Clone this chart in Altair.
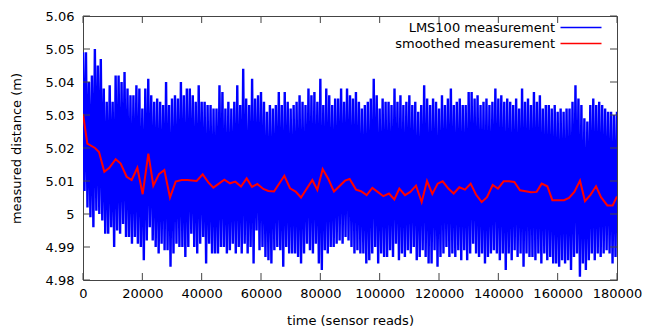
import altair as alt
import pandas as pd

# upper / lower envelope of the raw LMS100 readings, one pair per 1000 reads
raw_step = 1000
raw_upper = [
    5.049, 5.049, 5.040, 5.042, 5.050, 5.045, 5.047, 5.038, 5.034, 5.039,
    5.034, 5.042, 5.042, 5.040, 5.043, 5.038, 5.036, 5.036, 5.039, 5.038,
    5.032, 5.038, 5.041, 5.036, 5.034, 5.035, 5.034, 5.033, 5.040, 5.033,
    5.035, 5.036, 5.035, 5.040, 5.036, 5.038, 5.038, 5.036, 5.034, 5.039,
    5.034, 5.034, 5.033, 5.033, 5.032, 5.032, 5.039, 5.037, 5.032, 5.034,
    5.032, 5.034, 5.039, 5.033, 5.044, 5.035, 5.033, 5.041, 5.035, 5.036,
    5.037, 5.034, 5.031, 5.033, 5.032, 5.033, 5.037, 5.033, 5.037, 5.034,
    5.032, 5.033, 5.034, 5.036, 5.034, 5.033, 5.038, 5.036, 5.037, 5.034,
    5.041, 5.033, 5.038, 5.036, 5.033, 5.035, 5.035, 5.038, 5.034, 5.038,
    5.036, 5.035, 5.037, 5.034, 5.032, 5.033, 5.034, 5.035, 5.041, 5.036,
    5.032, 5.035, 5.034, 5.034, 5.033, 5.038, 5.034, 5.036, 5.033, 5.034,
    5.036, 5.033, 5.034, 5.031, 5.033, 5.039, 5.035, 5.033, 5.035, 5.034,
    5.032, 5.036, 5.033, 5.035, 5.038, 5.033, 5.034, 5.035, 5.033, 5.033,
    5.037, 5.037, 5.035, 5.036, 5.033, 5.034, 5.035, 5.033, 5.034, 5.038,
    5.035, 5.036, 5.034, 5.035, 5.034, 5.033, 5.035, 5.032, 5.038, 5.034,
    5.035, 5.033, 5.037, 5.034, 5.036, 5.032, 5.033, 5.033, 5.032, 5.033,
    5.031, 5.032, 5.031, 5.032, 5.032, 5.034, 5.039, 5.035, 5.033, 5.029,
    5.028, 5.033, 5.035, 5.033, 5.034, 5.033, 5.032, 5.031, 5.031, 5.030,
    5.031,
]
raw_lower = [
    5.007, 5.002, 4.999, 4.996, 5.001, 5.000, 4.998, 4.994, 4.994, 4.996,
    4.990, 4.995, 4.994, 4.997, 4.993, 4.993, 4.991, 4.993, 4.991, 4.990,
    4.986, 4.992, 4.996, 4.992, 4.990, 4.988, 4.991, 4.989, 4.989, 4.984,
    4.988, 4.991, 4.990, 4.990, 4.987, 4.990, 4.994, 4.990, 4.988, 4.991,
    4.993, 4.985, 4.991, 4.988, 4.988, 4.988, 4.990, 4.990, 4.988, 4.989,
    4.991, 4.988, 4.990, 4.988, 4.991, 4.988, 4.990, 4.985, 4.995, 4.989,
    4.990, 4.987, 4.986, 4.985, 4.989, 4.990, 4.989, 4.984, 4.990, 4.988,
    4.988, 4.988, 4.987, 4.985, 4.988, 4.991, 4.989, 4.988, 4.991, 4.985,
    4.983, 4.989, 4.988, 4.990, 4.990, 4.991, 4.992, 4.991, 4.993, 4.992,
    4.990, 4.988, 4.989, 4.988, 4.988, 4.985, 4.986, 4.988, 4.990, 4.985,
    4.988, 4.987, 4.987, 4.989, 4.987, 4.991, 4.986, 4.988, 4.987, 4.989,
    4.988, 4.990, 4.986, 4.987, 4.989, 4.987, 4.985, 4.985, 4.989, 4.984,
    4.987, 4.988, 4.990, 4.987, 4.988, 4.987, 4.989, 4.986, 4.989, 4.986,
    4.988, 4.991, 4.988, 4.987, 4.988, 4.985, 4.987, 4.988, 4.989, 4.988,
    4.986, 4.988, 4.983, 4.988, 4.986, 4.989, 4.987, 4.988, 4.984, 4.988,
    4.987, 4.987, 4.986, 4.988, 4.985, 4.988, 4.986, 4.987, 4.985, 4.985,
    4.984, 4.986, 4.985, 4.986, 4.983, 4.987, 4.988, 4.981, 4.985, 4.983,
    4.986, 4.988, 4.986, 4.988, 4.987, 4.988, 4.989, 4.988, 4.985, 4.987,
    4.985,
]

smooth_t = [
    0, 1460, 4045, 5393, 7191, 8877, 11012, 12697, 14720, 16405,
    18315, 20113, 22023, 23708, 25619, 27417, 29326, 31237, 33259, 35169,
    38315, 40337, 42247, 43933, 47641, 49551, 51349, 53259, 55169, 56966,
    58764, 60787, 62474, 64384, 67867, 69775, 71686, 73483, 77304, 78988,
    80787, 82697, 84607, 88316, 89888, 92023, 93708, 95618, 97529, 99326,
    101236, 103146, 104944, 106630, 108540, 110337, 112248, 114158, 115956, 117753,
    119552, 121237, 123147, 124945, 126854, 128765, 130675, 132471, 134383, 136182,
    138090, 139888, 141787, 143596, 145394, 147304, 149214, 151012, 152922, 154608,
    156517, 158204, 160227, 162136, 163822, 165620, 167530, 169214, 171126, 172923,
    174610, 176743, 178540, 180000,
]
smooth_v = [
    5.0303, 5.0213, 5.0200, 5.0188, 5.0128, 5.0140, 5.0166, 5.0153, 5.0113, 5.0103,
    5.0140, 5.0060, 5.0183, 5.0086, 5.0121, 5.0133, 5.0050, 5.0098, 5.0103, 5.0103,
    5.0100, 5.0120, 5.0096, 5.0080, 5.0104, 5.0093, 5.0098, 5.0083, 5.0108, 5.0082,
    5.0091, 5.0076, 5.0070, 5.0068, 5.0116, 5.0078, 5.0068, 5.0050, 5.0103, 5.0073,
    5.0136, 5.0106, 5.0068, 5.0101, 5.0106, 5.0074, 5.0069, 5.0057, 5.0079, 5.0067,
    5.0054, 5.0062, 5.0044, 5.0077, 5.0057, 5.0067, 5.0086, 5.0036, 5.0100, 5.0061,
    5.0092, 5.0099, 5.0077, 5.0062, 5.0081, 5.0074, 5.0092, 5.0059, 5.0036, 5.0051,
    5.0088, 5.0077, 5.0099, 5.0099, 5.0097, 5.0072, 5.0069, 5.0066, 5.0067, 5.0092,
    5.0084, 5.0042, 5.0042, 5.0042, 5.0049, 5.0067, 5.0101, 5.0039, 5.0059, 5.0084,
    5.0051, 5.0026, 5.0026, 5.0053,
]

series_names = ["LMS100 measurement", "smoothed measurement"]
series_colors = ["#0000ff", "#ff0000"]
y_ticks = [4.98, 4.99, 5.0, 5.01, 5.02, 5.03, 5.04, 5.05, 5.06]
x_ticks = [0, 20000, 40000, 60000, 80000, 100000, 120000, 140000, 160000, 180000]

W, H = 534, 264
FRAME = "#444444"
FONT = "DejaVu Sans"

raw_rows = []
for k, (u, lo) in enumerate(zip(raw_upper, raw_lower)):
    raw_rows.append({"t": k * raw_step, "v": u, "series": series_names[0], "o": 2 * k})
    raw_rows.append({"t": k * raw_step + raw_step / 2, "v": lo, "series": series_names[0], "o": 2 * k + 1})
raw_df = pd.DataFrame(raw_rows)
smooth_df = pd.DataFrame({"t": smooth_t, "v": smooth_v, "series": series_names[1]})

xscale = alt.Scale(domain=[0, 180000], nice=False, zero=False)
yscale = alt.Scale(domain=[4.98, 5.06], nice=False, zero=False)

color = alt.Color(
    "series:N",
    scale=alt.Scale(domain=series_names, range=series_colors),
    legend=alt.Legend(
        title=None, orient="none", legendX=459, legendY=5,
        labelAlign="right", labelOffset=0, symbolType="M2.4,0H10.6",
        symbolSize=100, symbolStrokeWidth=1.5, rowPadding=2, padding=0,
        labelFont=FONT, labelFontSize=13, labelColor="#000000",
    ),
)

xaxis = alt.Axis(
    values=x_ticks, format="d", title="time (sensor reads)",
    labelPadding=7, labelOverlap=False, labelFlush=False,
    titleX=W / 2, titleY=40, titleBaseline="middle",
)
yaxis = alt.Axis(
    values=y_ticks, format="~g", title="measured distance (m)",
    labelPadding=9, labelOverlap=False, labelFlush=False,
    titleX=-67, titleY=H / 2, titleBaseline="middle",
    titleAngle=270, titleAlign="center",
)

X = alt.X("t:Q", scale=xscale, axis=xaxis)
Y = alt.Y("v:Q", scale=yscale, axis=yaxis)

raw = alt.Chart(raw_df).mark_line(strokeWidth=2.4, strokeJoin="bevel", clip=True).encode(
    x=X, y=Y, order="o:Q", color=color,
)
smooth = alt.Chart(smooth_df).mark_line(strokeWidth=2, clip=True).encode(
    x=X, y=Y, color=color,
)

yt = pd.DataFrame({"v": y_ticks})
xt = pd.DataFrame({"t": x_ticks})
tick_l = alt.Chart(yt).mark_rule(color=FRAME, strokeWidth=1).encode(
    y=Y, x=alt.value(0), x2=alt.value(7))
tick_r = alt.Chart(yt).mark_rule(color=FRAME, strokeWidth=1).encode(
    y=Y, x=alt.value(W - 7), x2=alt.value(W))
tick_b = alt.Chart(xt).mark_rule(color=FRAME, strokeWidth=1).encode(
    x=X, y=alt.value(H - 7), y2=alt.value(H))
tick_t = alt.Chart(xt).mark_rule(color=FRAME, strokeWidth=1).encode(
    x=X, y=alt.value(0), y2=alt.value(7))

chart = alt.layer(raw, smooth, tick_l, tick_r, tick_b, tick_t).properties(
    width=W, height=H,
    autosize=alt.AutoSizeParams(type="none"),
    padding={"left": 75, "top": 8, "right": 30, "bottom": 50},
).configure_view(
    stroke=FRAME, strokeWidth=1,
).configure_axis(
    labelFont=FONT, labelFontSize=13, labelColor="#000000",
    titleFont=FONT, titleFontSize=13, titleFontWeight="normal", titleColor="#000000",
    domain=False, ticks=False, grid=False,
)

chart.save("out.html", embed_options={"renderer": "svg", "actions": False})
